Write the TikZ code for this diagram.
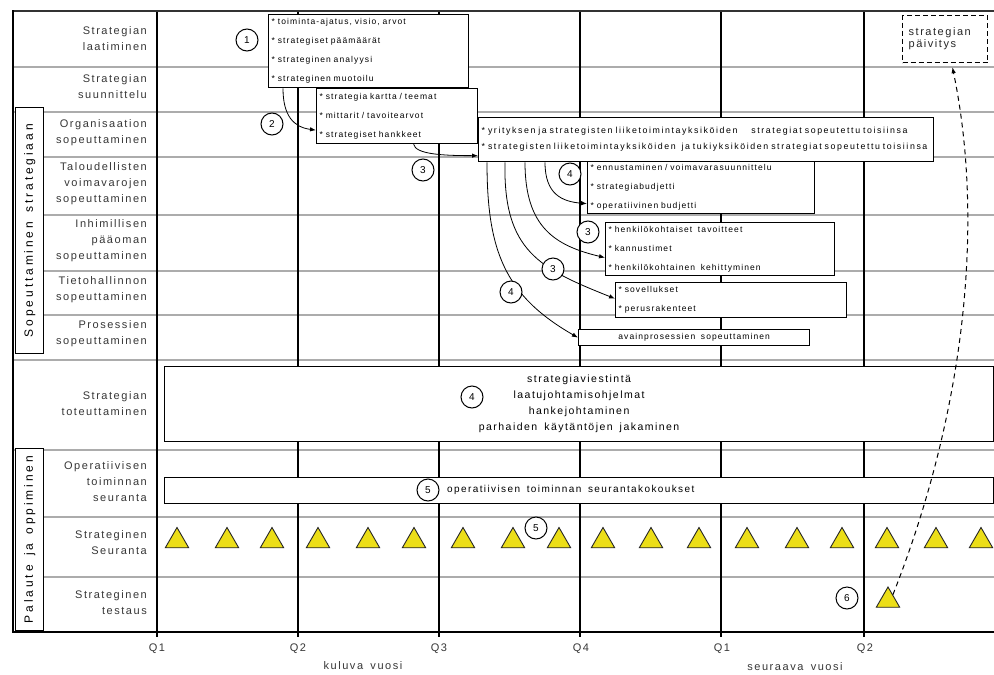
\documentclass[tikz,border=0pt]{standalone}
\usepackage{fontspec}
\setmainfont{Liberation Sans}
\newfontfamily\lblfont[LetterSpace=14,WordSpace=1.6]{Liberation Sans}
\newfontfamily\itemfont[LetterSpace=13,WordSpace=1.8]{Liberation Sans}
\newfontfamily\wideitemfont[LetterSpace=18,WordSpace=2.0]{Liberation Sans}
\newfontfamily\sidefont[LetterSpace=24,WordSpace=1.5]{Liberation Sans}
\usetikzlibrary{arrows.meta,shapes.geometric}
\definecolor{triyellow}{RGB}{236,222,24}
\definecolor{lblgray}{RGB}{55,55,55}
\newcommand{\itm}{{*}~}
\begin{document}
\begin{tikzpicture}[x=1pt,y=-1pt,
  rowline/.style={draw=gray!65,line width=1.8pt},
  gridline/.style={draw=black,line width=1.1pt},
  lbl/.style={anchor=east,align=right,text=lblgray,font=\lblfont\fontsize{11}{16}\selectfont,inner sep=0pt},
  itembox/.style={draw=black,line width=1.3pt,fill=white,anchor=north west,inner xsep=3pt,inner ysep=0pt,align=left,font=\itemfont\fontsize{8.5}{19}\selectfont},
  num/.style={circle,draw=black,line width=1pt,fill=white,minimum size=22pt,inner sep=0pt,font=\fontsize{10}{11}\selectfont},
  conn/.style={draw=black,line width=0.8pt,-{Latex[length=6pt,width=4.5pt]}},
  tri/.style={regular polygon,regular polygon sides=3,minimum size=27pt,inner sep=0pt,draw=black!85,line width=0.9pt,fill=triyellow},
  qlbl/.style={font=\lblfont\fontsize{11}{12}\selectfont,text=lblgray,inner sep=0pt},
  sidebox/.style={draw=black,line width=1.3pt,fill=white,anchor=north west,inner sep=0pt},
  sidetext/.style={rotate=90,font=\sidefont\fontsize{12}{13}\selectfont,inner sep=0pt},
  bigbox/.style={draw=black,line width=1.2pt,fill=white,anchor=north west},
  updbox/.style={draw=black,line width=1.3pt,dash pattern=on 5pt off 3pt,fill=white,anchor=north west,inner xsep=6pt,align=left,font=\lblfont\fontsize{11}{12}\selectfont,text=black!85}
]
\useasboundingbox (0,0) rectangle (994,675);
\fill[white] (0,0) rectangle (994,675);

% horizontal row separators
\foreach \yy/\xs in {67/13,112/13,157/43,215/43,271/43,315/43,360/13,450/13,517/43,577/43}
  \draw[rowline] (\xs,\yy) -- (994,\yy);

% quarter grid lines
\foreach \xx in {157,298,439,580,721,864}
  \draw[gridline] (\xx,12) -- (\xx,637);

% frame
\draw[black!80,line width=2pt] (12,11) -- (994,11);
\draw[black,line width=2.5pt] (13,10) -- (13,633);
\draw[black,line width=2.5pt] (12,632) -- (994,632);

% side group boxes
\node[sidebox,minimum width=28pt,minimum height=246pt] (sb1) at (15,107) {};
\node[sidetext] (st1) at (sb1.center) {Sopeuttaminen strategiaan};
\node[sidebox,minimum width=28pt,minimum height=182pt] (sb2) at (15,448) {};
\node[sidetext] (st2) at (sb2.center) {Palaute ja oppiminen};

% row labels
\node[lbl] (l1) at (147,38.5) {Strategian\\laatiminen};
\node[lbl] (l2) at (147,87) {Strategian\\suunnittelu};
\node[lbl] (l3) at (147,133) {Organisaation\\sopeuttaminen};
\node[lbl] (l4) at (147,184) {Taloudellisten\\voimavarojen\\sopeuttaminen};
\node[lbl] (l5) at (147,241) {Inhimillisen\\pääoman\\sopeuttaminen};
\node[lbl] (l6) at (147,290) {Tietohallinnon\\sopeuttaminen};
\node[lbl] (l7) at (147,333.5) {Prosessien\\sopeuttaminen};
\node[lbl] (l8) at (147,404) {Strategian\\toteuttaminen};
\node[lbl] (l9) at (147,482) {Operatiivisen\\toiminnan\\seuranta};
\node[lbl] (l10) at (147,543) {Strateginen\\Seuranta};
\node[lbl] (l11) at (147,603) {Strateginen\\testaus};

% item boxes
\node[itembox,minimum width=200pt,minimum height=73pt,text width=194pt] (b1) at (268,14)
  {\itm toiminta-ajatus, visio, arvot\\ \itm strategiset päämäärät\\ \itm strateginen analyysi\\ \itm strateginen muotoilu};
\node[itembox,minimum width=161pt,minimum height=55pt,text width=155pt] (b2) at (316,88)
  {\itm strategia kartta / teemat\\ \itm mittarit / tavoitearvot\\ \itm strategiset hankkeet};
\node[itembox,minimum width=455pt,minimum height=44pt,text width=449pt,font=\wideitemfont\fontsize{8.8}{16}\selectfont] (b3) at (478,117)
  {\itm yrityksen ja strategisten liiketoimintayksiköiden\hspace{14pt}strategiat sopeutettu toisiinsa\\ \itm strategisten liiketoimintayksiköiden\ \ ja tukiyksiköiden\ strategiat sopeutettu toisiinsa};
\node[itembox,minimum width=227pt,minimum height=52pt,text width=221pt] (b4) at (587,161)
  {\itm ennustaminen / voimavarasuunnittelu\\ \itm strategiabudjetti\\ \itm operatiivinen budjetti};
\node[itembox,minimum width=229pt,minimum height=53pt,text width=223pt] (b5) at (605,222)
  {\itm henkilökohtaiset\ \ tavoitteet\\ \itm kannustimet\\ \itm henkilökohtainen\ \ kehittyminen};
\node[itembox,minimum width=231pt,minimum height=35pt,text width=225pt] (b6) at (615,282)
  {\itm sovellukset\\ \itm perusrakenteet};
\node[itembox,minimum width=231pt,minimum height=16pt,text width=225pt,align=center] (b7) at (578,329)
  {avainprosessien\ \ sopeuttaminen};

% implementation and follow-up boxes
\node[bigbox,minimum width=829pt,minimum height=75pt,align=center,font=\lblfont\fontsize{10.5}{16}\selectfont] (impl) at (164,366)
  {strategiaviestintä\\laatujohtamisohjelmat\\hankejohtaminen\\parhaiden käytäntöjen jakaminen};
\node[bigbox,minimum width=829pt,minimum height=26pt] (opbox) at (164,477) {};
\node[anchor=west,inner sep=0pt,font=\lblfont\fontsize{10}{11}\selectfont] (optext) at (447,490) {operatiivisen toiminnan seurantakokoukset};

% update box
\node[updbox,minimum width=85pt,minimum height=47pt,text width=73pt] (upd) at (902,15) {strategian\\päivitys};

% connectors
\draw[conn] ([xshift=15pt]b1.south west) .. controls +(0,28) and +(-22,-3) .. ([yshift=-14pt]b2.west);
\draw[conn] ([xshift=16.5pt]b2.south) .. controls +(2,10) and +(-35,0) .. ([yshift=-16pt]b3.west);
\draw[conn] ([xshift=67pt]b3.south west) .. controls +(0,32) and +(-25,-2) .. ([yshift=-16pt]b4.west);
\draw[conn] ([xshift=47pt]b3.south west) .. controls +(0,65) and +(-50,-12) .. ([yshift=-8.5pt]b5.west);
\draw[conn] ([xshift=27pt]b3.south west) .. controls +(-2,89) and +(-75,-30) .. ([yshift=1.5pt]b6.west);
\draw[conn] ([xshift=9pt]b3.south west) .. controls +(0,89) and +(-73,-42) .. (b7.west);

% numbered circles
\node[num] (n1) at (247,40) {1};
\node[num] (n2) at (272,124) {2};
\node[num] (n3a) at (423,170) {3};
\node[num] (n4a) at (570,174) {4};
\node[num] (n3b) at (588,232) {3};
\node[num] (n3c) at (553,269) {3};
\node[num] (n4b) at (511,292) {4};
\node[num] (n4c) at (472,397) {4};
\node[num] (n5a) at (428,490) {5};
\node[num] (n5b) at (536,528) {5};
\node[num] (n6) at (847,598) {6};

% follow-up triangles
\foreach \xx [count=\i] in {177,227,272,318,368,414,463,513,559,603,651,699,747,797,842,887,936,981}
  \node[tri] (t\i) at (\xx,541) {};
\node[tri] (tt) at (888,600.5) {};

% feedback arrow
\draw[line width=1pt,dash pattern=on 5pt off 4pt,shorten >=4pt,-{Latex[length=6pt,width=4.5pt]}] (tt.50) .. controls (962,420) and (986,230) .. (upd.-75);

% time axis
\node[qlbl] (q1) at (157,649) {Q1};
\node[qlbl] (q2) at (298,649) {Q2};
\node[qlbl] (q3) at (439,649) {Q3};
\node[qlbl] (q4) at (581,649) {Q4};
\node[qlbl] (q5) at (722,649) {Q1};
\node[qlbl] (q6) at (865,649) {Q2};
\node[qlbl] (y1) at (363,666) {kuluva vuosi};
\node[qlbl] (y2) at (795,667) {seuraava vuosi};
\end{tikzpicture}
\end{document}
